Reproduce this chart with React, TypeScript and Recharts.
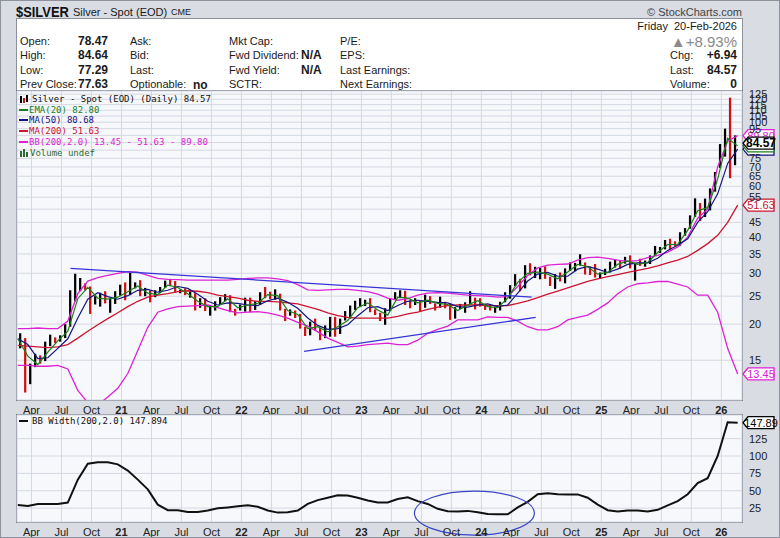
import React from 'react';
import {
  ComposedChart,
  Bar,
  Line,
  XAxis,
  YAxis,
  CartesianGrid,
  Cell,
  ReferenceLine,
  ReferenceDot,
} from 'recharts';

// half-month periods, the first one starting 20-Feb-2020
const HIGH = [
  18.6, 17.9, 14.6, 15.8, 15.6, 17.4, 18.4, 18.0, 18.3, 20.0,
  26.2, 29.9, 28.9, 27.7, 27.0, 25.0, 25.7, 26.0, 24.5, 26.0,
  27.4, 27.9, 30.1, 27.9, 28.4, 26.7, 26.2, 26.2, 26.9, 28.3,
  28.7, 28.2, 26.3, 26.6, 26.0, 25.6, 24.6, 24.6, 23.0, 24.0,
  24.8, 25.4, 25.2, 22.6, 23.4, 24.7, 24.7, 24.0, 25.8, 26.9,
  25.9, 26.4, 25.5, 22.6, 22.5, 22.3, 21.7, 19.6, 20.4, 20.9,
  19.4, 19.8, 21.2, 21.2, 20.9, 22.2, 23.2, 24.1, 24.6, 24.3,
  24.6, 22.5, 21.9, 22.7, 24.6, 25.8, 26.2, 26.1, 24.2, 24.6,
  24.1, 25.3, 25.0, 23.6, 24.9, 23.9, 23.6, 22.9, 23.5, 23.8,
  26.0, 24.7, 24.6, 23.5, 23.3, 23.0, 23.9, 25.8, 27.3, 29.8,
  28.7, 32.0, 32.5, 31.6, 31.3, 31.7, 29.2, 29.8, 30.2, 31.2,
  32.7, 32.6, 34.9, 32.7, 31.6, 32.3, 30.2, 31.1, 32.9, 33.4,
  33.2, 34.2, 34.6, 32.6, 33.7, 33.2, 34.6, 37.3, 37.0, 39.1,
  39.5, 38.7, 41.6, 43.0, 47.6, 54.5, 52.5, 54.4, 59.0, 67.2,
  84.0, 95.0, 121.6, 90.0,
];
const LOW = [
  16.5, 11.6, 12.4, 14.2, 14.6, 14.9, 16.8, 17.2, 17.4, 17.9,
  19.6, 24.0, 26.0, 26.2, 21.7, 23.4, 23.0, 23.6, 21.9, 23.5,
  25.1, 24.2, 25.2, 26.6, 25.0, 25.0, 23.8, 24.8, 25.6, 26.7,
  27.1, 25.7, 25.6, 25.2, 24.7, 22.3, 22.8, 22.2, 21.4, 22.3,
  23.4, 24.0, 22.0, 21.4, 22.3, 22.1, 22.0, 22.4, 23.4, 24.6,
  24.4, 24.3, 22.3, 20.5, 21.4, 21.0, 19.3, 18.2, 18.3, 19.0,
  17.6, 17.9, 18.1, 18.1, 18.5, 20.6, 20.9, 22.4, 23.0, 23.1,
  22.0, 21.5, 20.5, 19.9, 22.2, 24.4, 24.6, 23.3, 22.7, 23.3,
  22.1, 22.8, 23.5, 22.3, 22.8, 22.7, 20.7, 20.9, 22.6, 21.9,
  23.5, 22.5, 23.0, 22.4, 22.3, 21.9, 22.3, 23.8, 24.5, 27.1,
  26.0, 26.6, 29.5, 28.9, 28.6, 28.7, 27.1, 26.5, 28.1, 27.7,
  30.6, 30.5, 31.9, 29.7, 29.6, 29.0, 28.8, 29.6, 30.2, 31.4,
  31.1, 32.4, 31.2, 28.3, 31.8, 31.6, 32.3, 34.5, 35.3, 36.3,
  36.2, 37.2, 37.4, 40.5, 42.8, 47.0, 45.5, 47.0, 49.5, 57.5,
  69.5, 76.0, 64.0, 71.0,
];
const CLOSE = [
  17.6, 12.5, 14.2, 15.2, 14.9, 17.2, 17.9, 17.7, 18.0, 19.8,
  26.0, 26.8, 26.9, 26.8, 23.9, 24.6, 25.5, 24.1, 24.2, 25.8,
  27.3, 25.8, 27.0, 27.3, 25.2, 26.2, 24.9, 26.0, 26.8, 28.0,
  27.5, 26.0, 26.0, 25.3, 25.6, 23.2, 24.4, 22.3, 22.5, 23.9,
  24.0, 24.7, 22.4, 22.3, 22.9, 24.3, 22.4, 23.8, 25.6, 25.0,
  24.6, 25.6, 22.6, 21.8, 22.0, 21.6, 19.4, 18.8, 20.0, 19.1,
  18.0, 19.3, 20.9, 18.6, 20.8, 21.0, 22.9, 23.0, 23.4, 23.9,
  22.4, 21.7, 21.0, 22.4, 24.4, 25.2, 26.0, 23.9, 23.7, 24.0,
  23.0, 25.0, 23.6, 22.8, 24.2, 23.4, 21.2, 22.6, 23.3, 23.7,
  24.3, 24.0, 23.2, 22.6, 22.4, 22.9, 23.8, 25.0, 27.2, 28.6,
  26.6, 31.8, 29.9, 29.9, 30.9, 29.0, 27.4, 29.5, 28.3, 31.1,
  32.2, 32.4, 32.7, 31.0, 30.3, 29.1, 29.7, 30.5, 32.6, 32.8,
  32.6, 33.9, 31.6, 32.5, 32.2, 32.4, 34.5, 36.0, 36.9, 38.2,
  37.7, 37.6, 41.2, 42.9, 47.3, 51.8, 47.3, 51.0, 58.5, 67.0,
  79.0, 94.0, 73.0, 84.57,
];

// indicator readings on the 20th of each month, Feb-2020 .. Feb-2026
const EMA20 = [
  17.8, 15.5, 14.5, 16.0, 17.5, 18.9, 24.5, 26.8, 24.6, 24.4,
  24.8, 25.9, 27.1, 25.6, 25.3, 27.3, 26.8, 25.5, 24.0, 23.0,
  23.0, 24.5, 22.8, 23.3, 23.6, 25.3, 25.1, 22.3, 21.6, 19.3,
  19.6, 18.8, 19.6, 20.6, 22.8, 23.7, 22.4, 21.5, 24.8, 24.6,
  23.7, 24.2, 23.6, 23.4, 22.3, 23.3, 24.1, 23.0, 22.8, 24.6,
  27.9, 30.0, 30.3, 29.8, 28.7, 30.3, 32.2, 31.6, 29.8, 30.2,
  32.2, 33.1, 32.2, 32.7, 35.4, 37.7, 37.8, 42.2, 49.4, 50.6,
  63.5, 88.0, 82.8,
];
const MA50 = [
  17.8, 17.0, 15.2, 15.3, 16.5, 17.8, 21.0, 24.4, 25.7, 24.9,
  24.4, 25.1, 26.2, 26.4, 25.8, 26.2, 27.0, 26.6, 25.4, 24.0,
  23.3, 23.7, 23.6, 23.3, 23.2, 24.1, 24.6, 23.8, 22.7, 21.0,
  19.8, 19.2, 19.3, 19.9, 21.4, 22.8, 23.0, 22.3, 23.2, 24.0,
  24.2, 24.0, 23.8, 23.7, 23.0, 22.9, 23.3, 23.5, 23.0, 23.3,
  25.6, 28.2, 29.8, 30.2, 29.3, 29.3, 31.0, 31.7, 31.0, 30.2,
  31.0, 32.2, 32.6, 32.6, 33.8, 36.0, 37.5, 39.5, 45.0, 49.0,
  56.5, 72.0, 80.68,
];
const MA200 = [
  16.9, 16.8, 16.7, 16.6, 16.7, 17.0, 17.9, 18.9, 19.9, 20.9,
  21.9, 23.0, 24.0, 24.8, 25.2, 25.5, 25.9, 26.1, 26.0, 25.7,
  25.2, 24.9, 24.6, 24.2, 24.0, 24.0, 23.9, 23.7, 23.5, 23.0,
  22.5, 21.9, 21.4, 21.1, 21.0, 21.0, 21.0, 21.0, 21.3, 21.7,
  22.0, 22.5, 22.9, 23.2, 23.3, 23.3, 23.3, 23.2, 23.2, 23.2,
  23.6, 24.1, 24.7, 25.4, 26.0, 26.7, 27.4, 28.1, 28.7, 29.2,
  29.7, 30.2, 30.7, 31.2, 31.8, 32.6, 33.3, 34.3, 36.0, 38.0,
  40.6, 45.0, 51.63,
];
const BB_UPPER = [
  19.3, 19.3, 19.4, 19.3, 19.3, 20.5, 25.5, 28.2, 29.0, 29.5,
  30.0, 30.4, 30.3, 29.5, 28.8, 28.6, 28.5, 28.4, 28.4, 28.4,
  28.4, 28.4, 28.6, 28.8, 28.9, 28.9, 28.7, 28.3, 27.4, 26.3,
  26.2, 26.3, 26.4, 26.4, 26.2, 25.9, 25.4, 24.6, 24.2, 24.5,
  25.2, 25.6, 25.7, 25.6, 25.4, 25.2, 25.1, 25.0, 24.8, 24.9,
  27.0, 29.5, 31.3, 32.0, 32.2, 32.3, 33.3, 34.0, 34.1, 33.8,
  33.3, 33.0, 33.2, 34.0, 34.6, 35.5, 37.0, 40.0, 46.5, 50.0,
  70.0, 86.0, 89.8,
];
const BB_LOWER = [
  14.4, 14.4, 14.3, 14.3, 14.4, 14.0, 11.8, 10.7, 10.5, 11.2,
  12.0, 13.5, 16.2, 19.5, 22.0, 22.6, 23.0, 23.1, 23.2, 23.3,
  22.8, 22.3, 21.9, 22.0, 22.1, 21.9, 21.5, 21.0, 20.3, 19.7,
  18.8, 17.9, 17.3, 16.7, 16.8, 17.0, 17.1, 17.2, 17.0, 17.0,
  17.6, 18.6, 19.2, 19.7, 20.7, 20.7, 20.7, 21.2, 21.1, 21.1,
  20.5, 19.6, 19.1, 19.1, 19.6, 20.7, 21.1, 21.5, 22.5, 23.7,
  25.5, 26.9, 27.6, 27.8, 28.1, 28.1, 27.5, 26.9, 25.2, 25.2,
  22.0, 16.5, 13.45,
];
const BB_WIDTH = [
  29.5, 28, 31, 31, 31, 33, 66, 89, 91, 91,
  88, 79, 66, 52, 30, 22, 22, 19.5, 19.5, 21.5,
  24.8, 26, 27.5, 29, 27, 21.5, 18.5, 19, 21.5, 31,
  36.5, 40, 43.5, 43, 40, 36, 33, 33, 38, 40.5,
  35, 31, 24, 20.5, 20, 21, 19, 16.5, 16, 16,
  26, 34, 45, 46.5, 45, 44.7, 44.7, 40, 30, 22,
  20, 21.7, 21.7, 20, 22.5, 29, 35, 45, 61, 68,
  100, 148.5, 147.894,
];

const AXIS_LABELS = [
  'Apr', 'Jul', 'Oct', '21', 'Apr', 'Jul', 'Oct', '22', 'Apr', 'Jul', 'Oct', '23',
  'Apr', 'Jul', 'Oct', '24', 'Apr', 'Jul', 'Oct', '25', 'Apr', 'Jul', 'Oct', '26',
];
const PRICE_TICKS = [
  15, 20, 25, 30, 35, 40, 45, 50, 55, 60, 65, 70, 75, 80, 85, 90, 95, 100, 105, 110, 115, 120, 125,
];
// tick labels that sit under the value flags on the right
const COVERED_TICKS = [50, 80, 85, 90];
const WIDTH_TICKS = [25, 50, 75, 100, 125];

// hand-drawn annotations: [year, month, day, value]
const TRENDLINES = [
  [[2020, 7, 28, 31.2], [2024, 6, 2, 24.8]],
  [[2022, 7, 9, 16.1], [2024, 6, 14, 21.1]],
];
const SQUEEZE = [2023, 12, 10, 17.8];

const COLORS = {
  ema: '#1a7f1a',
  ma50: '#15157f',
  ma200: '#cc1530',
  bb: '#dd22d4',
  up: '#000000',
  down: '#d01010',
  trend: '#3535d8',
  grid: '#d4d8e2',
};

// x is counted in half-months from the left edge of the chart (17-Feb-2020)
const START = 1 + 16 / 29;
const at = (y: number, m: number, d: number) =>
  2 * ((y - 2020) * 12 + (m - 1) + (d - 1) / 30 - START);
const X_MAX = at(2026, 3, 3);
const FIRST = at(2020, 2, 20);

const tickPos = AXIS_LABELS.map((_, j) => 2 * (3 + 3 * j - START));
const labelAt = new Map(tickPos.map((p, j) => [p, AXIS_LABELS[j]]));

const priceRows = HIGH.map((h, i) => ({
  x: FIRST + i + 0.5,
  range: [LOW[i], h],
  up: i === 0 || CLOSE[i] >= CLOSE[i - 1],
}));

const monthRows = EMA20.map((v, k) => ({
  x: FIRST + 2 * k,
  ema: v,
  ma50: MA50[k],
  ma200: MA200[k],
  upper: BB_UPPER[k],
  lower: BB_LOWER[k],
  width: BB_WIDTH[k],
}));

const FONT = 'Arial, "Liberation Sans", sans-serif';
const MONO = '"DejaVu Sans Mono", monospace';

function XTick(props: any) {
  const { x, y, payload } = props;
  const label = labelAt.get(payload.value) ?? '';
  const year = /^\d+$/.test(label);
  return (
    <text
      x={x}
      y={y + 12}
      textAnchor="middle"
      fontSize={11}
      fontFamily={FONT}
      fontWeight={year ? 'bold' : 'normal'}
      fill="#222"
    >
      {label}
    </text>
  );
}

function YTick(props: any) {
  const { x, y, payload, hide } = props;
  if (hide && hide.includes(payload.value)) return <g />;
  return (
    <text x={x + 5} y={y + 4} fontSize={11} fontFamily={FONT} fill="#222">
      {payload.value}
    </text>
  );
}

// value flag on the right axis; label-less flags only show their edge under the others
function flag(label: string, color: string, bold = false) {
  return (p: any) => {
    const { cx, cy } = p;
    const l = cx + 1;
    return (
      <g>
        <polygon
          points={`${l},${cy} ${l + 5},${cy - 6} ${l + 31},${cy - 6} ${l + 31},${cy + 6} ${l + 5},${cy + 6}`}
          fill="#fff"
          stroke={color}
          strokeWidth={1.3}
        />
        {label && (
          <text
            x={l + 18}
            y={cy + 4}
            textAnchor="middle"
            fontSize={bold ? 12 : 11}
            fontWeight={bold ? 'bold' : 'normal'}
            fontFamily={FONT}
            fill={color}
          >
            {label}
          </text>
        )}
      </g>
    );
  };
}

function ellipse(p: any) {
  return <ellipse cx={p.cx} cy={p.cy} rx={60} ry={22} fill="none" stroke="#3a45c8" strokeWidth={1.2} />;
}

function Txt({ x, y, right, children, style }: any) {
  const pos: any = right ? { right: 780 - x } : { left: x };
  return (
    <div
      style={{
        position: 'absolute',
        top: y - 7,
        lineHeight: '14px',
        fontSize: 11,
        color: '#1a1a1a',
        whiteSpace: 'nowrap',
        ...pos,
        ...style,
      }}
    >
      {children}
    </div>
  );
}

const bold = { fontWeight: 'bold', fontSize: 12 };

function LegendRow({ y, color, children, icon }: any) {
  return (
    <div
      style={{
        position: 'absolute',
        left: 19,
        top: y - 6,
        height: 12,
        display: 'flex',
        alignItems: 'center',
        fontFamily: MONO,
        fontSize: 9,
        color,
        whiteSpace: 'nowrap',
      }}
    >
      {icon ?? <span style={{ display: 'inline-block', width: 9, height: 2, background: color, marginRight: 1 }} />}
      {children}
    </div>
  );
}

export default function App() {
  return (
    <div
      style={{
        position: 'absolute',
        left: 0,
        top: 0,
        width: 780,
        height: 538,
        background: '#d9dce3',
        overflow: 'hidden',
        fontFamily: FONT,
      }}
    >
      {/* title strip */}
      <div
        style={{
          position: 'absolute',
          left: 16,
          top: 3,
          fontSize: 15,
          fontWeight: 'bold',
          color: '#111',
          transform: 'scaleX(0.86)',
          transformOrigin: 'left top',
        }}
      >
        $SILVER
      </div>
      <Txt x={73} y={12}>Silver - Spot (EOD)</Txt>
      <Txt x={171} y={12} style={{ fontSize: 9 }}>CME</Txt>
      <Txt x={742} y={12} right style={{ color: '#444' }}>© StockCharts.com</Txt>

      {/* quote box */}
      <div
        style={{
          position: 'absolute',
          left: 16,
          top: 18,
          width: 727,
          height: 73,
          background: '#fff',
          border: '1px solid #8b909a',
          boxSizing: 'border-box',
        }}
      />
      <Txt x={20} y={41}>Open:</Txt>
      <Txt x={108} y={41} right style={bold}>78.47</Txt>
      <Txt x={20} y={55}>High:</Txt>
      <Txt x={108} y={55} right style={bold}>84.64</Txt>
      <Txt x={20} y={70}>Low:</Txt>
      <Txt x={108} y={70} right style={bold}>77.29</Txt>
      <Txt x={20} y={84}>Prev Close:</Txt>
      <Txt x={108} y={84} right style={bold}>77.63</Txt>
      <Txt x={130} y={41}>Ask:</Txt>
      <Txt x={130} y={55}>Bid:</Txt>
      <Txt x={130} y={70}>Last:</Txt>
      <Txt x={130} y={84}>Optionable:</Txt>
      <Txt x={193} y={85} style={bold}>no</Txt>
      <Txt x={229} y={41}>Mkt Cap:</Txt>
      <Txt x={229} y={55}>Fwd Dividend:</Txt>
      <Txt x={301} y={55} style={bold}>N/A</Txt>
      <Txt x={229} y={70}>Fwd Yield:</Txt>
      <Txt x={301} y={70} style={bold}>N/A</Txt>
      <Txt x={229} y={84}>SCTR:</Txt>
      <Txt x={340} y={41}>P/E:</Txt>
      <Txt x={340} y={55}>EPS:</Txt>
      <Txt x={340} y={70}>Last Earnings:</Txt>
      <Txt x={340} y={84}>Next Earnings:</Txt>
      <Txt x={737} y={26} right>Friday&nbsp;&nbsp;20-Feb-2026</Txt>
      <Txt x={737} y={42} right style={{ fontSize: 15, color: '#8a8a8a' }}>
        ▲+8.93%
      </Txt>
      <Txt x={670} y={55}>Chg:</Txt>
      <Txt x={737} y={55} right style={bold}>+6.94</Txt>
      <Txt x={670} y={70}>Last:</Txt>
      <Txt x={737} y={70} right style={bold}>84.57</Txt>
      <Txt x={670} y={84}>Volume:</Txt>
      <Txt x={737} y={84} right style={bold}>0</Txt>

      {/* panel backgrounds */}
      <div style={{ position: 'absolute', left: 16, top: 90, width: 727, height: 311, background: '#f7f8fb', border: '1px solid #737985', boxSizing: 'border-box' }} />
      <div style={{ position: 'absolute', left: 16, top: 414, width: 727, height: 109, background: '#f7f8fb', border: '1px solid #737985', boxSizing: 'border-box' }} />

      {/* price panel */}
      <div style={{ position: 'absolute', left: 0, top: 0 }}>
        <ComposedChart width={780} height={415} data={priceRows} margin={{ top: 91, right: 0, bottom: 0, left: 17 }}>
          <CartesianGrid stroke={COLORS.grid} />
          <XAxis
            type="number"
            dataKey="x"
            domain={[0, X_MAX]}
            ticks={tickPos}
            interval={0}
            height={15}
            tickSize={0}
            axisLine={false}
            tick={<XTick />}
            allowDataOverflow
          />
          <YAxis
            orientation="right"
            scale="log"
            domain={[10.93, 128.2]}
            ticks={PRICE_TICKS}
            interval={0}
            width={38}
            tickSize={0}
            axisLine={false}
            tick={<YTick hide={COVERED_TICKS} />}
            allowDataOverflow
          />
          <Bar dataKey="range" barSize={4} isAnimationActive={false}>
            {priceRows.map((r, i) => (
              <Cell key={i} fill={r.up ? COLORS.up : COLORS.down} />
            ))}
          </Bar>
          <Line data={monthRows} dataKey="upper" stroke={COLORS.bb} strokeWidth={1.3} dot={false} isAnimationActive={false} />
          <Line data={monthRows} dataKey="lower" stroke={COLORS.bb} strokeWidth={1.3} dot={false} isAnimationActive={false} />
          <Line data={monthRows} dataKey="ma200" stroke={COLORS.ma200} strokeWidth={1.3} dot={false} isAnimationActive={false} />
          <Line data={monthRows} dataKey="ma50" stroke={COLORS.ma50} strokeWidth={1.2} dot={false} isAnimationActive={false} />
          <Line data={monthRows} dataKey="ema" stroke={COLORS.ema} strokeWidth={1.2} dot={false} isAnimationActive={false} />
          {TRENDLINES.map(([a, b], i) => (
            <ReferenceLine
              key={i}
              segment={[
                { x: at(a[0], a[1], a[2]), y: a[3] },
                { x: at(b[0], b[1], b[2]), y: b[3] },
              ]}
              stroke={COLORS.trend}
              strokeWidth={1.3}
            />
          ))}
          <ReferenceDot x={X_MAX} y={89.8} r={0} shape={flag('89.80', COLORS.bb)} />
          <ReferenceDot x={X_MAX} y={80.68} r={0} shape={flag('', COLORS.ma50)} />
          <ReferenceDot x={X_MAX} y={82.8} r={0} shape={flag('', COLORS.ema)} />
          <ReferenceDot x={X_MAX} y={84.57} r={0} shape={flag('84.57', '#000', true)} />
          <ReferenceDot x={X_MAX} y={51.63} r={0} shape={flag('51.63', COLORS.ma200)} />
          <ReferenceDot x={X_MAX} y={13.45} r={0} shape={flag('13.45', COLORS.bb)} />
        </ComposedChart>
      </div>

      {/* BB width panel */}
      <div style={{ position: 'absolute', left: 0, top: 400 }}>
        <ComposedChart width={780} height={138} data={monthRows} margin={{ top: 15, right: 0, bottom: 0, left: 17 }}>
          <CartesianGrid stroke={COLORS.grid} />
          <XAxis
            type="number"
            dataKey="x"
            domain={[0, X_MAX]}
            ticks={tickPos}
            interval={0}
            height={16}
            tickSize={0}
            axisLine={false}
            tick={<XTick />}
            allowDataOverflow
          />
          <YAxis
            orientation="right"
            domain={[5, 159]}
            ticks={WIDTH_TICKS}
            interval={0}
            width={38}
            tickSize={0}
            axisLine={false}
            tick={<YTick />}
            allowDataOverflow
          />
          <Line dataKey="width" stroke="#111" strokeWidth={2} dot={false} isAnimationActive={false} />
          <ReferenceDot
            x={at(SQUEEZE[0], SQUEEZE[1], SQUEEZE[2])}
            y={SQUEEZE[3]}
            r={0}
            shape={ellipse}
          />
          <ReferenceDot x={X_MAX} y={147.894} r={0} shape={flag('147.89', '#000')} />
        </ComposedChart>
      </div>

      {/* legends */}
      <LegendRow
        y={99}
        color="#111"
        icon={
          <svg width={11} height={9} style={{ marginRight: 2 }}>
            <rect x={1} y={1} width={2} height={7} fill="#000" />
            <rect x={4} y={3} width={2} height={5} fill="#d01010" />
            <rect x={7} y={0} width={2} height={7} fill="#000" />
          </svg>
        }
      >
        Silver - Spot (EOD) (Daily) 84.57
      </LegendRow>
      <LegendRow y={109.5} color={COLORS.ema}>EMA(20) 82.80</LegendRow>
      <LegendRow y={120} color={COLORS.ma50}>MA(50) 80.68</LegendRow>
      <LegendRow y={131} color={COLORS.ma200}>MA(200) 51.63</LegendRow>
      <LegendRow y={142} color={COLORS.bb}>BB(200,2.0) 13.45 - 51.63 - 89.80</LegendRow>
      <LegendRow
        y={152.5}
        color="#2e6b2e"
        icon={
          <svg width={10} height={9} style={{ marginRight: 1 }}>
            <rect x={1} y={3} width={2} height={6} fill="#2e6b2e" />
            <rect x={4} y={1} width={2} height={8} fill="#2e6b2e" />
            <rect x={7} y={4} width={2} height={5} fill="#2e6b2e" />
          </svg>
        }
      >
        Volume undef
      </LegendRow>
      <LegendRow y={421} color="#111">
        <span style={{ marginLeft: 3 }}>BB Width(200,2.0) 147.894</span>
      </LegendRow>

      <div style={{ position: 'absolute', left: 0, top: 0, width: 780, height: 538, border: '1px solid #8d929c', boxSizing: 'border-box', pointerEvents: 'none' }} />
    </div>
  );
}
